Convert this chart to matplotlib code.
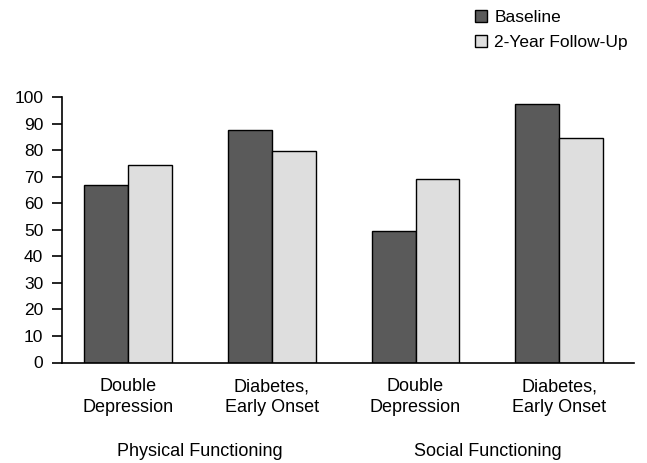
import matplotlib.pyplot as plt
import matplotlib.transforms as mtrans
import numpy as np

plt.rcParams['font.family'] = ['Liberation Sans', 'DejaVu Sans']

categories = ['Double\nDepression', 'Diabetes,\nEarly Onset', 'Double\nDepression', 'Diabetes,\nEarly Onset']
groups = ['Physical Functioning', 'Social Functioning']
baseline = [67, 87.5, 49.5, 97.3]
followup = [74.3, 79.8, 69.2, 84.7]
yticks = list(range(0, 101, 10))

fig = plt.figure(figsize=(6.47, 4.63), dpi=100)
ax = fig.add_axes([62/647, 100.5/463, (634-62)/647, 265.2/463])

x = np.arange(len(categories))
w = 0.305
ax.bar(x - w/2, baseline, w, color='#5a5a5a', edgecolor='black', linewidth=1, label='Baseline')
ax.bar(x + w/2, followup, w, color='#dedede', edgecolor='black', linewidth=1, label='2-Year Follow-Up')

ax.set_xlim(-0.46, 3.52)
ax.set_ylim(0, 100)
ax.set_yticks(yticks)
ax.tick_params(axis='y', direction='out', length=7.5, width=1.2, labelsize=12.5, pad=6)
ax.set_xticks(x)
ax.set_xticklabels(categories, fontsize=13, linespacing=1.25)
ax.tick_params(axis='x', length=0, pad=11.5)
for s in ['top', 'right']:
    ax.spines[s].set_visible(False)
ax.spines['left'].set_linewidth(1.2)
ax.spines['bottom'].set_linewidth(1.2)

# group labels under the categories
trans = mtrans.blended_transform_factory(ax.transData, fig.transFigure)
ax.text((x[0] + x[1]) / 2, 1 - 455.5/463, groups[0], transform=trans, ha='center', va='baseline', fontsize=13)
ax.text((x[2] + x[3]) / 2, 1 - 455.5/463, groups[1], transform=trans, ha='center', va='baseline', fontsize=13)

fig.legend(loc='upper left', bbox_to_anchor=(464/647, 1 + 1/463), frameon=False, fontsize=12.5,
           handlelength=0.65, handleheight=0.65, handletextpad=0.45, labelspacing=0.55, borderpad=0.15)

fig.savefig('out.png', dpi=100)
